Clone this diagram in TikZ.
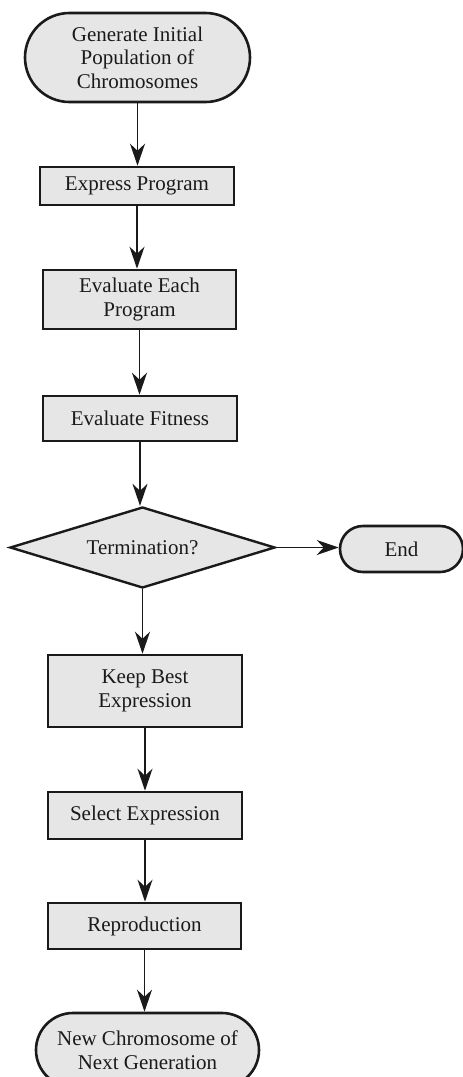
\documentclass[tikz,border=0pt]{standalone}
\usepackage{xcolor}
\usepackage{fontspec}
\setmainfont{Liberation Serif}
\usepackage{tikz}
\usetikzlibrary{shapes.geometric}
\usetikzlibrary{shapes.misc}
\usetikzlibrary{arrows.meta}
\usetikzlibrary{positioning}
\definecolor{boxgray}{HTML}{E6E6E6}
\definecolor{inkgray}{HTML}{1A1A1A}
\tikzset{
    procnode/.style = {rectangle, draw=inkgray, fill=boxgray, line width=2.6pt, align=center, inner sep=0pt},
    termnode/.style = {rounded rectangle, draw=inkgray, fill=boxgray, line width=2.6pt, align=center, inner sep=0pt},
    decnode/.style = {diamond, aspect=3.27, draw=inkgray, fill=boxgray, line width=2.4pt, align=center, inner sep=0pt},
}

\begin{document}
\begin{tikzpicture}[
	x=1pt, y=-1pt,
	font=\fontsize{21}{23.5}\selectfont,
	text=inkgray
]
\tikzset{
    flow/.style = {-{Stealth[length=22pt,width=15pt,inset=7pt]}, line width=1.6pt, draw=inkgray}
}
\useasboundingbox (0,0) rectangle (463,1077);
\node[termnode, minimum width=225pt, minimum height=89pt] at (137.5,57.5) (start) {Generate Initial\\Population of\\Chromosomes};
\node[procnode, minimum width=194pt, minimum height=38pt] at (137,186) (express) {Express Program};
\node[procnode, minimum width=193pt, minimum height=59pt] at (139.5,299.5) (evaleach) {Evaluate Each\\Program};
\node[procnode, minimum width=194pt, minimum height=45pt] at (140,418.5) (fitness) {Evaluate Fitness};
\node[decnode, minimum width=265pt, minimum height=81pt] at (142.5,547.5) (term) {Termination?};
\node[termnode, minimum width=123pt, minimum height=46pt] at (401.5,549) (end) {End};
\node[procnode, minimum width=194pt, minimum height=72pt] at (145,691) (keep) {Keep Best\\Expression};
\node[procnode, minimum width=194pt, minimum height=47pt] at (145,815.5) (select) {Select Expression};
\node[procnode, minimum width=193pt, minimum height=46pt] at (144.5,926) (repro) {Reproduction};
\node[termnode, minimum width=223pt, minimum height=74pt] at (147.5,1050) (newgen) {New Chromosome of\\Next Generation};
%
\draw[flow] (start.south) -- (start.south |- express.north);
\draw[flow] (express.south) -- (express.south |- evaleach.north);
\draw[flow] (evaleach.south) -- (evaleach.south |- fitness.north);
\draw[flow] (fitness.south) -- (fitness.south |- term.north);
\draw[flow] (term.east) -- (term.east -| end.west);
%
\draw[flow] (term.south) -- (term.south |- keep.north);
\draw[flow] (keep.south) -- (keep.south |- select.north);
\draw[flow] (select.south) -- (select.south |- repro.north);
\draw[flow] (repro.south) -- (repro.south |- newgen.north);
\end{tikzpicture}
\end{document}
